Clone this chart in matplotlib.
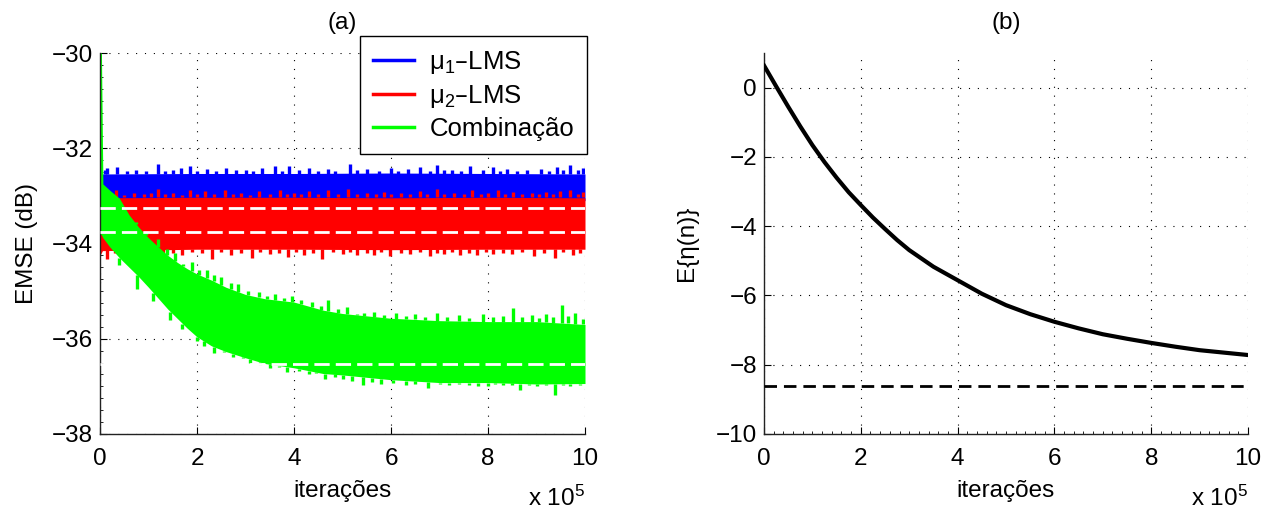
import numpy as np
import matplotlib
matplotlib.use("Agg")
import matplotlib.pyplot as plt
from matplotlib.ticker import MultipleLocator

plt.rcParams["font.family"] = ["Liberation Sans", "DejaVu Sans"]
plt.rcParams["font.size"] = 17.5
plt.rcParams["mathtext.default"] = "regular"

# ---------------------------------------------------------------------------
# data (x in units of 10^5 iterations)
# ---------------------------------------------------------------------------
# panel (a): envelopes of the noisy EMSE curves
blue_x = [0.02, 2.0, 4.0, 6.0, 8.0, 10.0]
blue_hi = [-32.54, -32.53, -32.53, -32.52, -32.53, -32.54]
blue_lo = [-33.10, -33.10, -33.10, -33.10, -33.10, -33.10]
blue_spike_x = [0.1, 0.15, 0.35, 0.55, 0.75, 0.95, 1.2, 1.35, 1.5, 1.68, 1.85, 2.0, 2.2, 2.4,
                2.6, 2.8, 3.0, 3.15, 3.35, 3.6, 3.75, 3.9, 4.1, 4.3, 4.5, 4.7, 4.85, 5.15, 5.3,
                5.5, 5.75, 6.0, 6.15, 6.35, 6.6, 6.8, 6.94, 7.1, 7.25, 7.45, 7.63, 7.9, 8.1,
                8.25, 8.4, 8.6, 8.8, 9.1, 9.25, 9.42, 9.55, 9.69, 9.85, 9.95]
blue_spike_y = [-32.46, -32.42, -32.40, -32.48, -32.45, -32.47, -32.33, -32.48, -32.45, -32.42,
                -32.38, -32.48, -32.44, -32.47, -32.42, -32.46, -32.45, -32.48, -32.42, -32.38,
                -32.47, -32.37, -32.46, -32.42, -32.47, -32.43, -32.48, -32.34, -32.46, -32.44,
                -32.47, -32.41, -32.47, -32.44, -32.40, -32.47, -32.35, -32.46, -32.45, -32.48,
                -32.38, -32.46, -32.40, -32.47, -32.44, -32.47, -32.46, -32.43, -32.47, -32.40,
                -32.46, -32.36, -32.45, -32.42]

red_x = [0.0, 0.05, 2.0, 4.0, 6.0, 8.0, 10.0]
red_hi = [-33.05, -33.04, -33.03, -33.03, -33.04, -33.03, -33.04]
red_lo = [-34.25, -34.15, -34.12, -34.12, -34.13, -34.12, -34.12]
red_top_spike_x = [0.2, 0.34, 0.5, 0.7, 0.9, 1.05, 1.2, 1.35, 1.5, 1.7, 1.86, 2.0, 2.16, 2.35,
                   2.58, 2.75, 2.9, 3.1, 3.27, 3.5, 3.71, 3.85, 4.0, 4.15, 4.3, 4.5, 4.71, 4.9,
                   5.12, 5.3, 5.5, 5.7, 5.85, 6.0, 6.2, 6.4, 6.6, 6.75, 6.94, 7.1, 7.3, 7.5,
                   7.66, 7.85, 8.0, 8.2, 8.35, 8.52, 8.7, 8.9, 9.05, 9.2, 9.35, 9.49, 9.69, 9.85,
                   9.95]
red_top_spike_y = [-32.97, -32.88, -32.98, -32.95, -32.97, -32.95, -32.86, -32.97, -32.95,
                   -32.98, -32.88, -32.96, -32.90, -32.97, -32.87, -32.96, -32.95, -32.98,
                   -32.90, -32.96, -32.88, -32.97, -32.94, -32.97, -32.90, -32.96, -32.87,
                   -32.97, -32.85, -32.97, -32.94, -32.97, -32.91, -32.97, -32.95, -32.96,
                   -32.89, -32.97, -32.85, -32.96, -32.93, -32.97, -32.88, -32.96, -32.95,
                   -32.88, -32.97, -32.91, -32.96, -32.94, -32.97, -32.92, -32.97, -32.90,
                   -32.87, -32.96, -32.92]
red_bot_spike_x = [0.14, 0.3, 0.45, 0.65, 0.8, 0.96, 1.1, 1.3, 1.5, 1.7, 1.9, 2.1, 2.3, 2.5,
                   2.7, 2.9, 3.13, 3.3, 3.5, 3.7, 3.88, 4.05, 4.2, 4.4, 4.57, 4.8, 5.0, 5.15,
                   5.3, 5.5, 5.64, 5.8, 5.98, 6.2, 6.4, 6.6, 6.8, 6.95, 7.1, 7.25, 7.42, 7.6,
                   7.77, 7.95, 8.1, 8.3, 8.5, 8.7, 8.94, 9.15, 9.38, 9.55, 9.76, 9.9]
red_bot_spike_y = [-34.33, -34.19, -34.22, -34.18, -34.20, -34.30, -34.18, -34.22, -34.19,
                   -34.25, -34.18, -34.20, -34.33, -34.18, -34.24, -34.19, -34.30, -34.18,
                   -34.22, -34.19, -34.28, -34.18, -34.24, -34.19, -34.32, -34.18, -34.22,
                   -34.18, -34.24, -34.19, -34.25, -34.18, -34.26, -34.19, -34.22, -34.18,
                   -34.27, -34.19, -34.22, -34.18, -34.25, -34.19, -34.24, -34.18, -34.21,
                   -34.19, -34.22, -34.18, -34.26, -34.19, -34.30, -34.18, -34.24, -34.20]

green_x = [0.0, 0.03, 0.06, 0.2, 0.4, 0.6, 0.8, 1.0, 1.2, 1.4, 1.6, 1.8, 2.0, 2.3, 2.6,
           3.0, 3.4, 4.0, 4.6, 5.0, 6.0, 7.0, 8.0, 9.0, 10.0]
green_hi = [-30.0, -30.0, -32.75, -32.88, -33.05, -33.40, -33.66, -33.88, -34.07, -34.25,
            -34.40, -34.53, -34.64, -34.77, -34.92, -35.07, -35.16, -35.23, -35.40, -35.47,
            -35.57, -35.62, -35.64, -35.64, -35.70]
green_lo = [-33.80, -33.82, -33.88, -34.07, -34.30, -34.50, -34.70, -34.92, -35.15, -35.38,
            -35.58, -35.78, -35.96, -36.15, -36.27, -36.40, -36.52, -36.61, -36.73, -36.76,
            -36.86, -36.92, -36.92, -36.95, -36.94]
green_top_spike_x = [0.75, 0.95, 1.2, 1.38, 1.55, 1.72, 1.89, 2.05, 2.2, 2.35, 2.5, 2.7, 2.85,
                     3.05, 3.27, 3.45, 3.6, 3.8, 3.95, 4.15, 4.37, 4.55, 4.71, 4.9, 5.09, 5.3,
                     5.45, 5.64, 5.85, 6.1, 6.3, 6.5, 6.7, 6.94, 7.15, 7.4, 7.6, 7.9, 8.1, 8.3,
                     8.52, 8.7, 8.9, 9.05, 9.2, 9.35, 9.52, 9.65, 9.8, 9.95]
green_top_spike_y = [-33.55, -33.76, -33.90, -34.12, -34.20, -34.42, -34.39, -34.55, -34.55,
                     -34.66, -34.70, -34.82, -34.85, -35.00, -35.02, -35.10, -35.05, -35.15,
                     -35.10, -35.18, -35.22, -35.32, -35.18, -35.38, -35.33, -35.48, -35.45,
                     -35.43, -35.50, -35.45, -35.52, -35.48, -35.54, -35.45, -35.55, -35.50,
                     -35.56, -35.48, -35.55, -35.52, -35.36, -35.55, -35.50, -35.56, -35.48,
                     -35.55, -35.29, -35.52, -35.45, -35.58]
green_bot_spike_x = [0.4, 0.76, 1.1, 1.45, 1.7, 2.0, 2.15, 2.35, 2.55, 2.75, 2.95, 3.1, 3.3,
                     3.5, 3.7, 3.85, 4.1, 4.3, 4.45, 4.64, 4.85, 5.0, 5.2, 5.43, 5.6, 5.8, 6.05,
                     6.3, 6.5, 6.77, 7.0, 7.2, 7.4, 7.6, 7.8, 8.0, 8.15, 8.3, 8.5, 8.66, 8.85,
                     9.0, 9.2, 9.38, 9.55, 9.7, 9.9]
green_bot_spike_y = [-34.45, -34.95, -35.20, -35.60, -35.80, -36.05, -36.15, -36.30, -36.28,
                     -36.38, -36.40, -36.50, -36.55, -36.62, -36.60, -36.70, -36.68, -36.75,
                     -36.72, -36.85, -36.80, -36.85, -36.88, -36.97, -36.90, -36.95, -36.92,
                     -36.98, -36.94, -37.04, -36.96, -36.98, -36.96, -36.97, -36.99, -37.00,
                     -36.96, -36.98, -36.97, -37.08, -36.98, -37.00, -36.97, -37.19, -36.98,
                     -37.00, -36.98]

# theoretical steady-state levels (white dashed)
emse_theory = [-33.25, -33.75, -36.53]

# panel (b): mean of eta(n)
eta_x = [0.0, 0.25, 0.5, 0.75, 1.0, 1.25, 1.5, 1.75, 2.0, 2.25, 2.5, 2.75, 3.0, 3.5, 4.0,
         4.5, 5.0, 5.5, 6.0, 6.5, 7.0, 7.5, 8.0, 8.5, 9.0, 9.5, 10.0]
eta_mean = [0.64, 0.04, -0.55, -1.12, -1.66, -2.15, -2.60, -3.02, -3.39, -3.75, -4.08, -4.40,
            -4.69, -5.17, -5.56, -5.95, -6.28, -6.54, -6.76, -6.95, -7.12, -7.25, -7.37,
            -7.48, -7.58, -7.65, -7.72]
eta_limit = -8.6

labels = ["\u03bc$_1$\u2013LMS", "\u03bc$_2$\u2013LMS", "Combina\u00e7\u00e3o"]
colors = ["#0000ff", "#ff0000", "#00ff00"]

# ---------------------------------------------------------------------------
fig = plt.figure(figsize=(12.64, 5.12), dpi=100)
W, H = 1264.0, 512.0
ax1 = fig.add_axes([100 / W, 1 - 434 / H, 485 / W, 381 / H])
ax2 = fig.add_axes([764 / W, 1 - 434 / H, 484 / W, 381 / H])

grid_kw = dict(color="black", linestyle=(0, (1, 7)), linewidth=0.8)


def style(ax):
    ax.spines["top"].set_visible(False)
    ax.spines["right"].set_visible(False)
    for s in ("left", "bottom"):
        ax.spines[s].set_linewidth(1.0)
        ax.spines[s].set_color("#222222")
    ax.tick_params(which="both", direction="in", top=False, right=False)
    ax.tick_params(which="major", length=5, width=0.8)
    ax.tick_params(axis="x", which="major", pad=10)
    ax.tick_params(axis="y", which="major", pad=5)
    ax.tick_params(which="minor", length=2.5, width=0.6)
    ax.grid(True, which="major", **grid_kw)
    ax.set_axisbelow(True)


# --- panel (a) ---
ax = ax1
bands = [
    (blue_x, blue_lo, blue_hi, [(blue_spike_x, blue_hi[0], blue_spike_y)]),
    (red_x, red_lo, red_hi, [(red_top_spike_x, red_hi[2], red_top_spike_y),
                             (red_bot_spike_x, red_lo[2], red_bot_spike_y)]),
    (green_x, green_lo, green_hi, []),
]
for (bx, blo, bhi, spikes), c, lab in zip(bands, colors, labels):
    ax.fill_between(bx, blo, bhi, color=c, linewidth=0, zorder=2)
    ax.plot([], [], color=c, linewidth=2.5, label=lab)
    for sx, base, sy in spikes:
        ax.vlines(sx, base, sy, color=c, linewidth=2.4, zorder=2)

# green spikes start from the green envelope itself
g_top_base = np.interp(green_top_spike_x, green_x, green_hi)
g_bot_base = np.interp(green_bot_spike_x, green_x, green_lo)
ax.vlines(green_top_spike_x, g_top_base, green_top_spike_y, color=colors[2], linewidth=2.4, zorder=2)
ax.vlines(green_bot_spike_x, g_bot_base, green_bot_spike_y, color=colors[2], linewidth=2.4, zorder=2)

for lvl in emse_theory:
    ax.axhline(lvl, color="white", linewidth=2.0, dashes=(5.5, 2.2), zorder=3)

ax.set_xlim(0, 10)
ax.set_ylim(-38, -30)
ax.set_xticks(range(0, 11, 2))
ax.set_yticks(range(-38, -29, 2))
ax.yaxis.set_minor_locator(MultipleLocator(0.25))
style(ax)
ax.set_title("(a)", fontsize=17.5, pad=17)
ax.set_xlabel("itera\u00e7\u00f5es", labelpad=7)
ax.set_ylabel("EMSE (dB)", labelpad=10)
ax.text(1.0, -0.19, "x 10$^5$", transform=ax.transAxes, ha="right", va="baseline",
        fontsize=17.5)

leg = ax.legend(loc="upper right", bbox_to_anchor=(587 / W, 1 - 36 / H),
                bbox_transform=fig.transFigure, borderaxespad=0, fancybox=False,
                framealpha=1, edgecolor="black", handlelength=1.6, handletextpad=0.6,
                labelspacing=0.28, borderpad=0.5, fontsize=18.5)
leg.get_frame().set_linewidth(1.0)
leg.set_zorder(10)

# --- panel (b) ---
ax = ax2
ax.plot(eta_x, eta_mean, color="black", linewidth=3.0, zorder=3)
ax.axhline(eta_limit, color="black", linewidth=2.0, dashes=(4.5, 2.5), zorder=3)
ax.set_xlim(0, 10)
ax.set_ylim(-10, 1)
ax.set_xticks(range(0, 11, 2))
ax.set_yticks(range(-10, 1, 2))
ax.xaxis.set_minor_locator(MultipleLocator(0.2))
style(ax)
ax.set_title("(b)", fontsize=17.5, pad=17)
ax.set_xlabel("itera\u00e7\u00f5es", labelpad=7)
ax.set_ylabel("E{\u03b7(n)}", labelpad=13)
ax.text(1.0, -0.19, "x 10$^5$", transform=ax.transAxes, ha="right", va="baseline",
        fontsize=17.5)

fig.savefig("out.png", dpi=100)
